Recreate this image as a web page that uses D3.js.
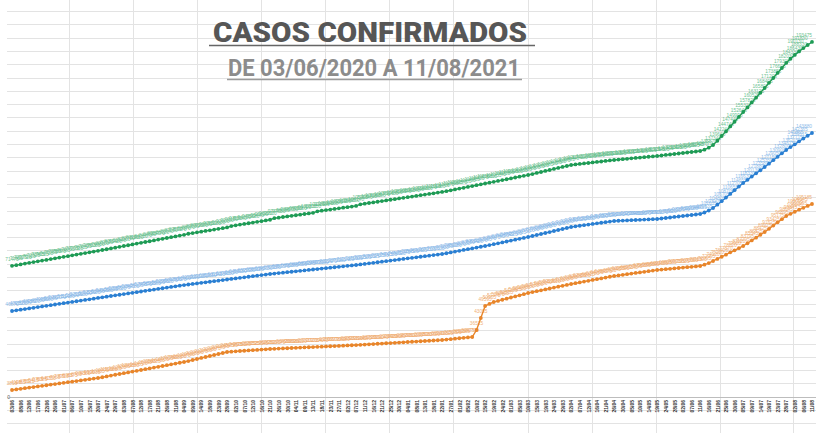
<!DOCTYPE html>
<html><head><meta charset="utf-8">
<script src="https://cdn.jsdelivr.net/npm/d3@7"></script>
<style>html,body{margin:0;padding:0;background:#fff;}svg{display:block;}</style>
</head><body><svg id="c" width="816" height="433"></svg>
<script>
const titleText = "CASOS CONFIRMADOS";
const subtitleText = "DE 03/06/2020 A 11/08/2021";
const startDate = "2020-06-03";
const endDate = "2021-08-11";
const reportWeekdays = [1, 3, 5];
const yTickValues = [0];

const green = [71475,71855,72275,72725,73115,73525,73955,74325,74725,75165,75585,75975,76385,76765,77215,77615,78035,78425,78855,79265,
79650,80100,80520,80990,81400,81840,82300,82700,83130,83610,84030,84470,84880,85340,85770,86220,86640,87080,87510,87970,
88370,88970,89330,89720,90090,90500,90850,91230,91630,92000,92390,93150,93530,93940,94310,94690,95080,95440,95820,96220,
96600,97440,97750,98080,98400,98750,99050,99380,99720,100030,100350,101180,101530,101840,102160,102500,102820,103150,103460,103800,
104140,105000,105340,105710,106060,106390,106770,107120,107480,107820,108190,108540,108900,109240,109590,109960,110310,110670,111010,111380,
111735,112175,112655,113105,113575,114005,114495,114955,115425,115875,116355,116815,117255,117745,118215,118665,119125,119605,120055,120525,
120985,121505,122085,122625,123185,123715,124285,124825,125375,125895,126440,126740,127000,127280,127530,127820,128090,128350,128630,128900,
129165,129395,129595,129815,130055,130265,130485,130685,130915,131125,131345,131605,131895,132165,132415,132695,132965,133255,133515,133795,
134070,134770,135870,137340,139640,142240,144740,147440,149990,152640,155325,157825,160525,163125,165805,168405,171205,173855,176605,179305,
182030,184330,186430,188330,190130,191830,193475];

const blue = [46870,47210,47580,47930,48290,48620,49000,49350,49690,50060,50420,50770,51110,51480,51830,52190,52530,52900,53250,53605,
53965,54325,54665,55035,55385,55715,56075,56445,56785,57135,57495,57875,58215,58565,58925,59255,59625,59975,60335,60675,
61010,61320,61610,61910,62230,62510,62810,63120,63410,63730,64030,64320,64630,64930,65210,65530,65830,66120,66430,66730,
67035,67285,67515,67775,68015,68265,68495,68755,68995,69245,69490,69730,69990,70220,70470,70710,70960,71200,71460,71695,
71935,72225,72535,72835,73115,73435,73735,74025,74335,74635,74925,75245,75545,75825,76135,76435,76725,77035,77335,77635,
77930,78350,78800,79230,79670,80130,80550,80990,81420,81870,82295,82775,83275,83745,84255,84745,85225,85725,86215,86710,
87200,87730,88290,88830,89380,89900,90470,91010,91560,92090,92650,93000,93320,93650,93960,94300,94620,94950,95260,95590,
95920,96040,96140,96230,96340,96460,96560,96670,96790,96890,97010,97270,97550,97820,98110,98370,98640,98920,99180,99460,
99735,100535,101635,103005,104805,106705,108705,110655,112705,114655,116630,118330,120130,121880,123580,125350,127150,129050,130900,132800,
134615,136215,137715,139315,140865,142365,143880];

const orange = [3815,4125,4465,4785,5115,5415,5765,6085,6415,6755,7065,7395,7715,8065,8375,8705,9045,9365,9695,10015,
10355,10775,11225,11655,12115,12525,12965,13415,13835,14265,14725,15165,15585,16035,16465,16905,17325,17785,18215,18655,
19075,19595,20155,20695,21275,21805,22355,22875,23445,23985,24525,24725,24875,25055,25195,25365,25525,25675,25845,25995,
26160,26270,26370,26490,26580,26690,26810,26910,27020,27110,27230,27340,27440,27560,27660,27770,27860,27980,28090,28190,
28310,28440,28590,28710,28850,29010,29140,29280,29400,29550,29680,29820,29980,30110,30230,30380,30520,30650,30790,30940,
31065,31315,31535,31795,32025,32265,32475,32700,36515,43055,49595,50705,51775,52375,52995,53585,54225,54825,55435,56055,
56680,57160,57660,58130,58640,59130,59610,60110,60600,61095,61585,62005,62455,62885,63325,63785,64205,64645,65075,65525,
65945,66255,66595,66915,67245,67595,67905,68235,68555,68895,69215,69435,69635,69865,70075,70295,70535,70735,70955,71165,
71395,72095,72995,74120,75220,76420,77570,78820,79920,81120,82295,83795,85345,86825,88425,89925,91625,93425,95175,96895,
98645,99845,100945,102095,103095,104145,105185];

// category axis: report days (Mon/Wed/Fri) between start and end
const dates = d3.utcDays(new Date(startDate + "T00:00:00Z"), new Date(endDate + "T00:00:01Z"))
  .filter(d => reportWeekdays.includes(d.getUTCDay()));
const fmt = d3.utcFormat("%d/%m");
const cats = dates.map(fmt);

const series = [
  {values: green, line: "#1e9b55", label: "#5dbd88"},
  {values: blue, line: "#2a7fd2", label: "#82b5e8"},
  {values: orange, line: "#e8852a", label: "#f0a96a"}
];

const W = 816, H = 433;
const svg = d3.select("#c");

// spreadsheet background grid
const gridG = svg.append("g");
const hLines = d3.range(0, 33).map(k => 11 + k * 13.3).filter(y => y < H);
gridG.selectAll("line.h").data(hLines).join("line")
  .attr("x1", 7).attr("x2", W).attr("y1", d => Math.round(d) + 0.5).attr("y2", d => Math.round(d) + 0.5)
  .attr("stroke", "#e3e3e3").attr("stroke-width", 1);
const colX = [69, 133, 197, 261, 325, 389, 453, 528, 592, 656, 720, 793];
gridG.selectAll("line.v").data(colX).join("line")
  .attr("x1", d => d + 0.5).attr("x2", d => d + 0.5).attr("y1", 0).attr("y2", H)
  .attr("stroke", "#e3e3e3").attr("stroke-width", 1);

const x = d3.scalePoint().domain(cats).range([12, 812]);
const y = d3.scaleLinear().domain([0, 200000]).range([397, 30]);

// x axis
const xAxis = svg.append("g").attr("transform", "translate(0,397)")
  .call(d3.axisBottom(x).tickValues(cats.filter((d, i) => i % 2 === 0)).tickSize(0).tickFormat(d => d));
xAxis.select(".domain").attr("stroke", "#bdbdbd").attr("d", "M10,0.5H816");
xAxis.selectAll("text")
  .attr("transform", "rotate(-90)").attr("x", -3).attr("y", 0).attr("dy", "0.35em")
  .style("text-anchor", "end").style("font-size", "5px").style("font-weight", 700)
  .style("font-family", "Liberation Sans, Arial, sans-serif")
  .attr("fill", "#333");

// y axis (only zero label visible)
const yAxis = svg.append("g").attr("transform", "translate(11,0)")
  .call(d3.axisLeft(y).tickValues(yTickValues).tickSize(0).tickFormat(d3.format("d")));
yAxis.select(".domain").remove();
yAxis.selectAll("text").style("font-size", "5px").style("font-family", "Liberation Sans, Arial, sans-serif")
  .attr("fill", "#555").attr("x", -1);

// series
const lineGen = (vals) => d3.line().x((d, i) => x(cats[i])).y(d => y(d))(vals);
series.forEach(s => {
  const g = svg.append("g");
  g.selectAll("text").data(s.values).join("text")
    .attr("x", (d, i) => x(cats[i])).attr("y", d => y(d) - 5)
    .attr("text-anchor", (d, i) => i > s.values.length - 4 ? "end" : "middle")
    .style("font-size", "4.8px").style("font-family", "Liberation Sans, Arial, sans-serif")
    .attr("fill", s.label).attr("opacity", 0.9)
    .text(d => d);
  g.append("path").attr("d", lineGen(s.values)).attr("fill", "none")
    .attr("stroke", s.line).attr("stroke-width", 1.4);
  g.selectAll("circle").data(s.values).join("circle")
    .attr("cx", (d, i) => x(cats[i])).attr("cy", d => y(d)).attr("r", 1.9)
    .attr("fill", s.line);
});

// title
const tg = svg.append("g");
tg.append("text").attr("x", 370).attr("y", 42).attr("text-anchor", "middle")
  .attr("textLength", 314).attr("lengthAdjust", "spacingAndGlyphs")
  .style("font-family", "Roboto, sans-serif").style("font-weight", 900).style("font-size", "27px")
  .attr("fill", "#565656").text(titleText);
tg.append("line").attr("x1", 209).attr("x2", 535).attr("y1", 45.5).attr("y2", 45.5)
  .attr("stroke", "#666").attr("stroke-width", 1.5);
tg.append("text").attr("x", 374).attr("y", 75.5).attr("text-anchor", "middle")
  .attr("textLength", 292).attr("lengthAdjust", "spacingAndGlyphs")
  .style("font-family", "Roboto, sans-serif").style("font-weight", 700).style("font-size", "23px")
  .attr("fill", "#8c8c8c").text(subtitleText);
tg.append("line").attr("x1", 227).attr("x2", 522).attr("y1", 79.5).attr("y2", 79.5)
  .attr("stroke", "#9a9a9a").attr("stroke-width", 1.5);
</script></body></html>
